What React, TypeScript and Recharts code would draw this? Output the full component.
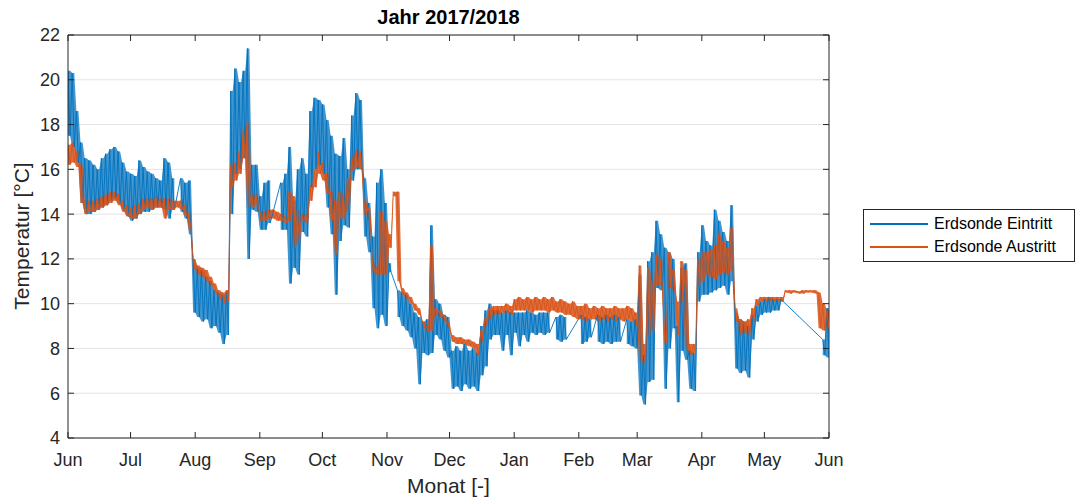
import { ComposedChart, Line, Area, XAxis, YAxis, CartesianGrid, ReferenceLine } from "recharts";

// month ticks (days since 1 Jun 2017)
const monthTicks = [0, 30, 61, 92, 122, 153, 183, 214, 245, 273, 304, 334, 365];
const monthLabels = ["Jun", "Jul", "Aug", "Sep", "Oct", "Nov", "Dec", "Jan", "Feb", "Mar", "Apr", "May", "Jun"];
const tempTicks = [4, 6, 8, 10, 12, 14, 16, 18, 20, 22];

// daily upper / lower readings, one entry every 2 days (null = no data)
const eintrittHi = [
  20.4, 20.3, 18.6, 17.2, 16.5, 16.4, 16.2, 16.0, 16.5, 16.7,
  16.9, 17.0, 16.8, 16.3, 15.9, 15.8, 15.7, 16.4, 16.1, 15.9,
  15.8, 15.6, 15.5, 16.5, 16.3, 15.6, null, 15.6, 15.4, 15.5,
  12.0, 11.6, 11.5, 11.2, 11.0, 10.6, 10.5, 10.4, 10.6, 19.5,
  20.5, 19.9, 20.4, 21.4, 16.2, 16.2, 14.8, 15.4, 15.5, null,
  null, 15.4, 15.8, 17.0, 14.6, 16.0, 16.5, 15.8, 18.6, 19.2,
  19.1, 18.9, 18.2, 17.5, 16.7, 16.6, 17.4, 16.0, 18.4, 19.4,
  19.1, 15.6, 14.5, 13.0, 15.4, 16.0, 14.5, 11.8, null, 10.6,
  10.5, 10.4, 10.0, 9.6, 9.4, 9.2, 9.3, 13.5, 10.2, 10.0,
  9.5, 9.4, 7.9, 8.1, 7.9, 8.2, 7.9, 8.0, 7.8, 9.0,
  9.7, 10.0, 9.7, 9.7, 9.6, 9.7, 9.6, 9.6, 9.6, 9.6,
  9.7, 9.6, 9.5, 9.6, 9.6, 9.6, null, 9.4, 9.5, 9.4,
  null, null, null, 9.5, 9.4, 9.3, null, 9.5, 9.4, 9.5,
  9.4, 9.5, 9.4, null, 9.3, 9.2, 9.3, 11.3, 7.7, 11.9,
  12.3, 13.7, 13.1, 12.5, 12.3, 12.0, 9.0, 11.6, 11.8, 7.9,
  7.8, 12.3, 13.5, 12.8, 12.6, 14.2, 13.7, 13.2, 12.8, 14.4,
  9.6, 9.3, 9.2, 9.0, 9.5, 9.9, 10.1, 10.2, 10.3, 10.2,
  10.2, 10.2, null, null, null, null, null, null, null, null,
  null, 8.4, 9.8,
];
const eintrittLo = [
  17.5, 17.0, 16.3, 14.5, 14.0, 14.0, 14.1, 14.2, 14.3, 14.4,
  14.6, 14.7, 14.5, 14.2, 13.9, 13.7, 13.8, 14.0, 14.1, 14.1,
  14.2, 14.3, 14.3, 14.2, 13.8, 14.2, null, 14.1, 13.8, 13.1,
  9.6, 9.4, 9.2, 9.3, 8.9, 9.0, 8.7, 8.2, 8.6, 14.0,
  15.8, 16.0, 16.5, 12.0, 14.2, 14.1, 13.3, 13.3, 13.6, null,
  null, 13.3, 13.3, 10.9, 11.6, 11.3, 13.2, 13.0, 15.2, 16.0,
  16.2, 15.8, 14.3, 13.1, 10.4, 12.8, 13.5, 13.4, 15.5, 16.0,
  16.0, 13.0, 12.3, 9.8, 8.9, 9.5, 9.0, 11.4, null, 9.4,
  9.0, 8.8, 8.5, 8.0, 6.4, 7.8, 7.7, 7.8, 8.6, 8.4,
  7.9, 7.6, 6.2, 6.3, 6.1, 6.4, 6.2, 6.3, 6.1, 6.8,
  7.2, 8.4, 8.6, 8.6, 7.9, 8.6, 7.7, 8.7, 8.1, 8.6,
  8.3, 8.7, 8.6, 8.7, 8.6, 8.7, null, 8.4, 8.3, 8.4,
  null, null, null, 8.2, 8.3, 8.5, null, 8.3, 8.2, 8.3,
  8.2, 8.3, 8.3, null, 8.2, 8.1, 8.0, 5.9, 5.5, 6.5,
  6.6, 10.7, 10.6, 6.2, 8.0, 8.9, 5.6, 7.9, 7.5, 6.2,
  6.1, 10.1, 10.4, 10.4, 10.5, 10.6, 10.7, 10.8, 10.4, 11.0,
  7.1, 6.9, 7.0, 6.7, 8.4, 9.2, 9.5, 9.6, 9.6, 9.7,
  9.7, 10.1, null, null, null, null, null, null, null, null,
  null, 7.7, 7.6,
];
const austrittHi = [
  17.1, 17.2, 16.8, 16.2, 14.6, 14.6, 14.6, 14.7, 14.8, 14.9,
  15.0, 15.0, 14.9, 14.6, 14.4, 14.3, 14.4, 14.5, 14.7, 14.7,
  14.7, 14.8, 14.7, 14.7, 14.7, 14.6, 14.6, 14.6, 14.4, 14.0,
  12.0, 11.7, 11.6, 11.5, 11.2, 10.9, 10.6, 10.5, 10.6, 16.2,
  16.3, 16.8, 17.8, 18.1, 14.9, 14.9, 14.1, 14.1, 14.2, 14.2,
  14.1, 14.0, 13.9, 15.0, 14.8, 14.2, 14.0, 14.0, 15.3, 16.0,
  16.8, 16.3, 15.8, 15.0, 14.6, 15.0, 14.9, 15.6, 16.6, 16.9,
  16.8, 14.6, 14.3, 11.8, 11.6, 14.1, 13.7, 13.1, 15.0, 15.0,
  10.7, 10.5, 10.3, 10.0, 9.8, 9.2, 9.0, 12.6, 9.8, 9.7,
  9.5, 9.2, 8.6, 8.5, 8.5, 8.4, 8.4, 8.3, 8.2, 8.8,
  9.4, 9.8, 9.9, 9.9, 9.9, 10.0, 9.9, 10.2, 10.3, 10.2,
  10.3, 10.2, 10.3, 10.2, 10.3, 10.2, 10.3, 10.1, 10.2, 10.1,
  10.0, 10.1, 9.9, 9.9, 10.0, 9.8, 9.9, 9.8, 9.9, 9.8,
  9.8, 9.9, 9.8, 9.8, 9.9, 9.8, 9.6, 11.7, 8.2, 11.6,
  11.0, 12.2, 12.0, 8.9, 12.3, 11.5, 10.1, 11.9, 11.5, 8.2,
  8.2, 12.0, 12.3, 12.3, 12.4, 12.6, 13.1, 12.8, 12.5, 13.4,
  9.8, 9.3, 9.2, 9.3, 9.8, 10.2, 10.3, 10.3, 10.3, 10.3,
  10.3, 10.3, 10.6, 10.6, 10.6, 10.55, 10.6, 10.6, 10.6, 10.6,
  10.5, 10.0, 9.7,
];
const austrittLo = [
  16.2, 16.3, 16.1, 14.5, 14.0, 14.1, 14.1, 14.2, 14.3, 14.4,
  14.5, 14.6, 14.4, 14.1, 13.9, 13.8, 13.8, 14.0, 14.2, 14.3,
  14.2, 14.3, 14.3, 13.8, 14.2, 14.2, 14.3, 14.2, 13.9, 13.3,
  11.5, 11.3, 11.2, 11.0, 10.8, 10.5, 10.2, 10.0, 10.1, 15.2,
  15.5, 15.8, 16.5, 14.3, 14.3, 14.4, 13.7, 13.7, 13.8, 13.8,
  13.7, 13.7, 13.6, 13.7, 12.5, 12.7, 13.7, 13.6, 14.6, 15.2,
  15.8, 15.5, 14.9, 13.7, 12.2, 13.8, 13.8, 14.2, 15.9, 16.1,
  16.0, 14.0, 13.7, 11.4, 11.3, 11.3, 11.3, 12.5, 14.8, 11.0,
  10.4, 10.2, 10.0, 9.7, 9.5, 8.9, 8.75, 8.8, 9.5, 9.4,
  9.2, 8.9, 8.3, 8.2, 8.2, 8.15, 8.1, 8.0, 7.7, 8.3,
  9.0, 9.3, 9.5, 9.5, 9.6, 9.6, 9.5, 9.7, 9.7, 9.7,
  9.7, 9.6, 9.7, 9.7, 9.7, 9.6, 9.7, 9.6, 9.6, 9.5,
  9.5, 9.4, 9.3, 9.3, 9.2, 9.3, 9.3, 9.2, 9.3, 9.2,
  9.3, 9.2, 9.3, 9.2, 9.3, 9.2, 9.0, 7.4, 7.3, 8.6,
  8.8, 10.8, 10.8, 8.2, 10.7, 10.6, 8.6, 10.1, 8.0, 7.7,
  7.8, 10.8, 11.0, 11.3, 11.2, 11.1, 11.3, 11.4, 11.3, 11.5,
  9.2, 8.6, 8.7, 8.6, 9.2, 9.9, 10.1, 10.1, 10.1, 10.1,
  10.1, 10.1, 10.5, 10.45, 10.5, 10.45, 10.45, 10.5, 10.5, 10.45,
  8.9, 8.8, 8.9,
];

const BLUE = "#0072BD";
const ORANGE = "#D95319";
const AXIS = "#262626";
const FONT = "'Liberation Sans', Arial, sans-serif";

const PLOT_LEFT = 68;
const PLOT_RIGHT = 829;
const PLOT_TOP = 35;
const PLOT_BOTTOM = 438;

// upper reading at the start of each 2-day step, lower reading one day later
function toPoints(hi: (number | null)[], lo: (number | null)[]) {
  const pts: { d: number; v: number }[] = [];
  hi.forEach((h, k) => {
    if (h == null || lo[k] == null) return;
    pts.push({ d: k * 2, v: h });
    pts.push({ d: k * 2 + 1, v: lo[k] as number });
  });
  return pts;
}

// lower..upper range per step, broken where data is missing
function toBand(hi: (number | null)[], lo: (number | null)[]) {
  const pts: { d: number; r: [number, number] | null }[] = [];
  hi.forEach((h, k) => {
    if (h == null || lo[k] == null) {
      pts.push({ d: k * 2, r: null });
      return;
    }
    pts.push({ d: k * 2, r: [lo[k] as number, h] });
    pts.push({ d: k * 2 + 1, r: [lo[k] as number, h] });
  });
  return pts;
}

const eintritt = toPoints(eintrittHi, eintrittLo);
const austritt = toPoints(austrittHi, austrittLo);
const eintrittBand = toBand(eintrittHi, eintrittLo);
const austrittBand = toBand(austrittHi, austrittLo);

function MonthTick({ x, payload }: any) {
  const i = monthTicks.indexOf(payload.value);
  return (
    <g>
      <line x1={x} x2={x} y1={PLOT_BOTTOM} y2={PLOT_BOTTOM - 6} stroke={AXIS} />
      <line x1={x} x2={x} y1={PLOT_TOP} y2={PLOT_TOP + 6} stroke={AXIS} />
      <text x={x} y={466} textAnchor="middle" fontSize={18} fill={AXIS} fontFamily={FONT}>
        {monthLabels[i]}
      </text>
    </g>
  );
}

function TempTick({ y, payload }: any) {
  return (
    <g>
      <line x1={PLOT_LEFT} x2={PLOT_LEFT + 6} y1={y} y2={y} stroke={AXIS} />
      <line x1={PLOT_RIGHT} x2={PLOT_RIGHT - 6} y1={y} y2={y} stroke={AXIS} />
      <text x={60} y={y} dy="0.36em" textAnchor="end" fontSize={18} fill={AXIS} fontFamily={FONT}>
        {payload.value}
      </text>
    </g>
  );
}

export default function App() {
  return (
    <div style={{ position: "absolute", left: 0, top: 0, width: 1076, height: 501, background: "#fff", fontFamily: FONT }}>
      <ComposedChart width={1076} height={501} margin={{ top: PLOT_TOP, right: 1076 - PLOT_RIGHT, bottom: 33, left: 8 }}>
        <CartesianGrid vertical={false} stroke="#e4e4e4" />
        <XAxis
          dataKey="d"
          type="number"
          domain={[0, 365]}
          ticks={monthTicks}
          height={30}
          tickLine={false}
          axisLine={{ stroke: AXIS }}
          tick={<MonthTick />}
          interval={0}
          allowDataOverflow
        />
        <YAxis
          type="number"
          domain={[4, 22]}
          ticks={tempTicks}
          width={60}
          tickLine={false}
          axisLine={{ stroke: AXIS }}
          tick={<TempTick />}
          interval={0}
          allowDataOverflow
        />
        <ReferenceLine y={22} stroke={AXIS} />
        <ReferenceLine x={365} stroke={AXIS} />
        <Area data={eintrittBand} dataKey="r" type="linear" stroke="none" fill={BLUE} fillOpacity={0.75} isAnimationActive={false} />
        <Line data={eintritt} dataKey="v" stroke={BLUE} strokeWidth={0.9} dot={false} isAnimationActive={false} />
        <Area data={austrittBand} dataKey="r" type="linear" stroke="none" fill={ORANGE} fillOpacity={0.85} isAnimationActive={false} />
        <Line data={austritt} dataKey="v" stroke={ORANGE} strokeWidth={0.9} dot={false} isAnimationActive={false} />
      </ComposedChart>

      <div style={{ position: "absolute", left: 0, top: 6, width: 897, textAlign: "center", fontSize: 20, fontWeight: "bold", color: "#000" }}>
        Jahr 2017/2018
      </div>
      <div style={{ position: "absolute", left: 0, top: 474, width: 897, textAlign: "center", fontSize: 21, color: AXIS }}>
        Monat [-]
      </div>
      <div
        style={{
          position: "absolute",
          left: 22,
          top: 236,
          transform: "translate(-50%, -50%) rotate(-90deg)",
          whiteSpace: "nowrap",
          fontSize: 21,
          color: AXIS,
        }}
      >
        Temperatur [°C]
      </div>

      <div
        style={{
          position: "absolute",
          left: 863,
          top: 209,
          width: 210,
          height: 51,
          border: `1px solid ${AXIS}`,
          background: "#fff",
          fontSize: 16,
          color: "#000",
        }}
      >
        {[
          { name: "Erdsonde Eintritt", color: BLUE },
          { name: "Erdsonde Austritt", color: ORANGE },
        ].map((e, i) => (
          <div key={e.name} style={{ position: "absolute", left: 6, top: 4 + i * 23, height: 20, display: "flex", alignItems: "center" }}>
            <div style={{ width: 58, height: 1.5, background: e.color, marginRight: 6 }} />
            <span>{e.name}</span>
          </div>
        ))}
      </div>
    </div>
  );
}
